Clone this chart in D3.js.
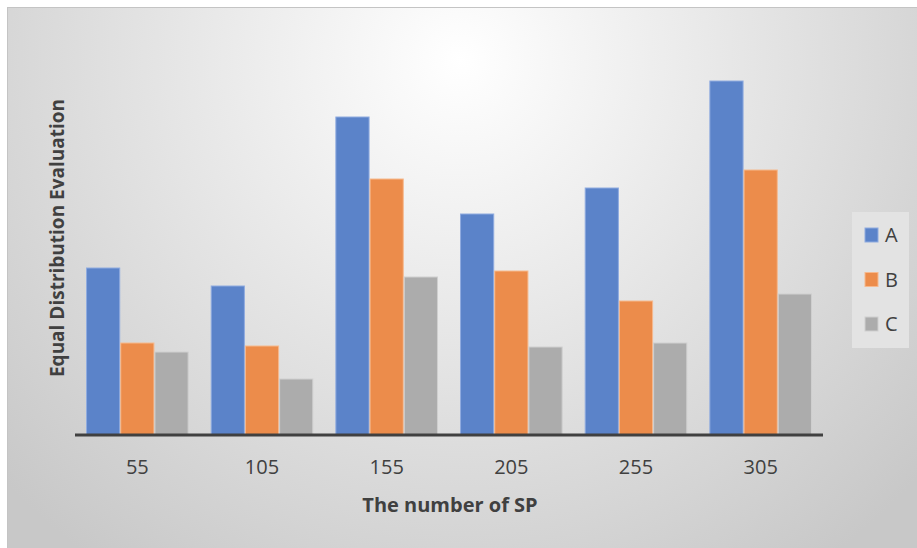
<!DOCTYPE html>
<html>
<head>
<meta charset="utf-8">
<script src="https://cdn.jsdelivr.net/npm/d3@7"></script>
<style>
  html, body { margin: 0; padding: 0; background: #ffffff; }
  svg { display: block; }
</style>
</head>
<body>
<script>
// Chart data
const categories = ["55", "105", "155", "205", "255", "305"];
const seriesNames = ["A", "B", "C"];
const valuesA = [167, 149, 318, 221, 247, 354];
const valuesB = [92, 89, 256, 164, 134, 265];
const valuesC = [83, 56, 158, 88, 92, 141];
const seriesValues = [valuesA, valuesB, valuesC];
const colors = ["#5b83c9", "#ec8c4b", "#acacac"];
const strokeColors = ["#8fabe0", "#f6b98e", "#cfcfcf"];

const W = 917, H = 548;
const svg = d3.select("body").append("svg").attr("width", W).attr("height", H);

// Background panel with a soft radial gradient
const defs = svg.append("defs");
const grad = defs.append("radialGradient")
  .attr("id", "bg").attr("gradientUnits", "userSpaceOnUse")
  .attr("cx", 460).attr("cy", 60).attr("r", 620);
grad.append("stop").attr("offset", "0%").attr("stop-color", "#ffffff");
grad.append("stop").attr("offset", "100%").attr("stop-color", "#c8c8c8");

svg.append("rect").attr("x", 7).attr("y", 7).attr("width", W - 7).attr("height", H - 7)
  .attr("fill", "url(#bg)");
svg.append("line").attr("x1", 7).attr("x2", W).attr("y1", 7.5).attr("y2", 7.5)
  .attr("stroke", "#c4c4c4").attr("stroke-width", 1);
svg.append("line").attr("x1", 7.5).attr("x2", 7.5).attr("y1", 7).attr("y2", H)
  .attr("stroke", "#c4c4c4").attr("stroke-width", 1);

const plot = { left: 75, right: 823, top: 55, bottom: 435 };

const x0 = d3.scaleBand().domain(categories)
  .range([plot.left, plot.right]).paddingInner(0.177).paddingOuter(0.0885);
const x1 = d3.scaleBand().domain(seriesNames).range([0, x0.bandwidth()]).padding(0);
const y = d3.scaleLinear().domain([0, 380]).range([plot.bottom, plot.top]);

// Bars
const groups = svg.append("g").selectAll("g").data(categories).join("g")
  .attr("transform", c => `translate(${x0(c)},0)`);
groups.selectAll("rect")
  .data((c, i) => seriesNames.map((s, k) => ({ s, k, v: seriesValues[k][i] })))
  .join("rect")
  .attr("x", d => x1(d.s) + 0.5)
  .attr("width", x1.bandwidth() - 1)
  .attr("y", d => y(d.v))
  .attr("height", d => y(0) - y(d.v))
  .attr("fill", d => colors[d.k])
  .attr("stroke", d => strokeColors[d.k])
  .attr("stroke-width", 1);

// X axis
const xAxis = svg.append("g").attr("transform", `translate(0,${plot.bottom})`)
  .call(d3.axisBottom(x0).tickSize(0).tickSizeOuter(0));
xAxis.select(".domain").attr("stroke", "#404040").attr("stroke-width", 3)
  .attr("d", `M${plot.left},0H${plot.right}`);
xAxis.selectAll("text")
  .attr("y", 39).attr("dy", null)
  .attr("font-family", "'Open Sans', sans-serif").attr("font-size", 20)
  .attr("fill", "#404040");

// Axis titles
svg.append("text")
  .attr("x", (plot.left + plot.right) / 2 + 1).attr("y", 512)
  .attr("text-anchor", "middle")
  .attr("font-family", "'Open Sans', sans-serif").attr("font-weight", "bold")
  .attr("font-size", 20).attr("fill", "#404040")
  .text("The number of SP");

svg.append("text")
  .attr("transform", "translate(64,238) rotate(-90)")
  .attr("text-anchor", "middle")
  .attr("font-family", "'Open Sans', sans-serif").attr("font-weight", "bold")
  .attr("font-size", 19).attr("fill", "#404040")
  .text("Equal Distribution Evaluation");

// Legend
const legend = svg.append("g");
legend.append("rect").attr("x", 852).attr("y", 212).attr("width", 57).attr("height", 136)
  .attr("fill", "#e3e3e3");
const li = legend.selectAll("g.item").data(seriesNames).join("g")
  .attr("class", "item")
  .attr("transform", (d, i) => `translate(865,${228 + i * 44.5})`);
li.append("rect").attr("width", 13).attr("height", 14)
  .attr("fill", (d, i) => colors[i]).attr("stroke", (d, i) => strokeColors[i]);
li.append("text").attr("x", 20).attr("y", 14)
  .attr("font-family", "'Open Sans', sans-serif").attr("font-size", 20)
  .attr("fill", "#404040").text(d => d);
</script>
</body>
</html>
